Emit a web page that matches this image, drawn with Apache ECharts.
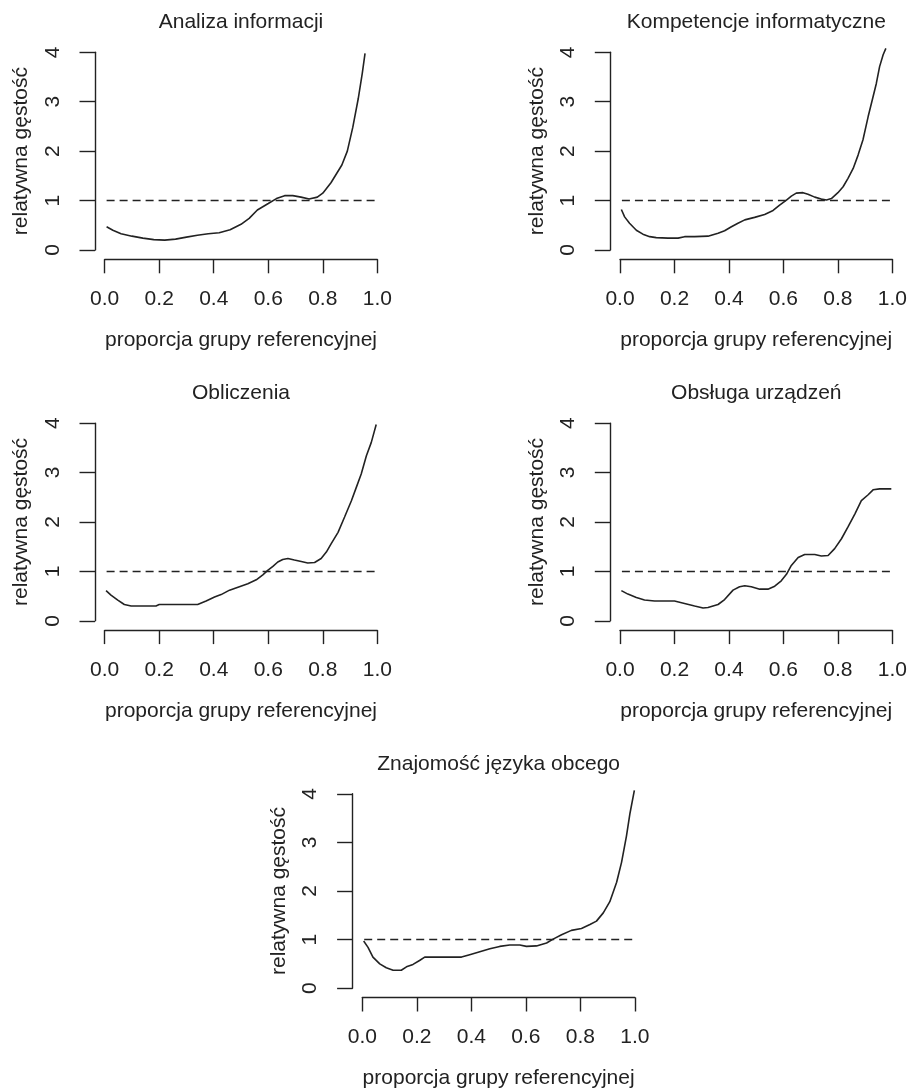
<!DOCTYPE html>
<html>
<head>
<meta charset="utf-8">
<script src="https://cdn.jsdelivr.net/npm/echarts@6/dist/echarts.min.js"></script>
<style>
html,body{margin:0;padding:0;background:#fff;}
#chart{width:910px;height:1090px;}
</style>
</head>
<body>
<div id="chart"></div>
<script>
// ---- data ----
const panelTitles = ["Analiza informacji", "Kompetencje informatyczne", "Obliczenia", "Obsługa urządzeń", "Znajomość języka obcego"];
const xTickValues = [0, 0.2, 0.4, 0.6, 0.8, 1.0];
const yTickValues = [0, 1, 2, 3, 4];
const xAxisTitle = "proporcja grupy referencyjnej";
const yAxisTitle = "relatywna gęstość";
const referenceLevel = 1;
const referenceSpan = [0.007, 1.015];

const analizaInformacji = [[0.007,0.47],[0.03,0.40],[0.06,0.33],[0.10,0.28],[0.14,0.24],[0.18,0.21],[0.22,0.20],[0.26,0.22],[0.30,0.26],[0.34,0.30],[0.38,0.33],[0.42,0.35],[0.46,0.41],[0.50,0.52],[0.53,0.64],[0.56,0.81],[0.60,0.94],[0.63,1.04],[0.66,1.10],[0.69,1.10],[0.72,1.07],[0.75,1.03],[0.78,1.07],[0.80,1.15],[0.83,1.36],[0.87,1.72],[0.89,2.00],[0.91,2.48],[0.93,3.06],[0.945,3.58],[0.955,3.98]];
const kompetencjeInformatyczne = [[0.005,0.82],[0.017,0.67],[0.035,0.54],[0.06,0.40],[0.084,0.32],[0.109,0.27],[0.133,0.25],[0.176,0.24],[0.213,0.24],[0.237,0.27],[0.274,0.27],[0.323,0.28],[0.36,0.34],[0.384,0.39],[0.409,0.47],[0.433,0.54],[0.458,0.61],[0.494,0.66],[0.531,0.72],[0.562,0.80],[0.586,0.91],[0.611,1.01],[0.629,1.09],[0.647,1.15],[0.672,1.16],[0.69,1.13],[0.715,1.07],[0.739,1.03],[0.758,1.01],[0.776,1.04],[0.80,1.16],[0.819,1.28],[0.837,1.45],[0.856,1.65],[0.874,1.92],[0.892,2.23],[0.911,2.70],[0.929,3.10],[0.941,3.37],[0.953,3.71],[0.966,3.95],[0.976,4.08]];
const obliczenia = [[0.005,0.61],[0.023,0.52],[0.048,0.42],[0.072,0.33],[0.097,0.30],[0.14,0.30],[0.188,0.30],[0.20,0.33],[0.25,0.33],[0.30,0.33],[0.341,0.33],[0.372,0.40],[0.403,0.48],[0.427,0.53],[0.458,0.62],[0.494,0.69],[0.525,0.75],[0.556,0.83],[0.58,0.93],[0.598,1.02],[0.617,1.10],[0.635,1.19],[0.653,1.24],[0.672,1.26],[0.696,1.23],[0.721,1.20],[0.745,1.17],[0.77,1.18],[0.794,1.26],[0.813,1.39],[0.831,1.56],[0.856,1.79],[0.88,2.10],[0.905,2.43],[0.923,2.70],[0.941,2.97],[0.96,3.34],[0.978,3.61],[0.996,3.97]];
const obslugaUrzadzen = [[0.005,0.61],[0.029,0.54],[0.06,0.47],[0.09,0.42],[0.127,0.40],[0.164,0.40],[0.20,0.40],[0.237,0.35],[0.274,0.30],[0.305,0.26],[0.323,0.27],[0.36,0.33],[0.384,0.43],[0.415,0.62],[0.439,0.69],[0.458,0.71],[0.482,0.69],[0.513,0.64],[0.543,0.64],[0.568,0.70],[0.592,0.81],[0.611,0.94],[0.629,1.12],[0.654,1.28],[0.678,1.34],[0.715,1.34],[0.739,1.31],[0.764,1.32],[0.788,1.46],[0.813,1.66],[0.837,1.90],[0.862,2.16],[0.886,2.43],[0.911,2.55],[0.929,2.65],[0.953,2.67],[0.996,2.67]];
const znajomoscJezyka = [[0.005,0.97],[0.021,0.84],[0.039,0.64],[0.064,0.50],[0.088,0.42],[0.113,0.37],[0.143,0.37],[0.162,0.44],[0.186,0.49],[0.21,0.57],[0.229,0.64],[0.272,0.64],[0.321,0.64],[0.364,0.64],[0.394,0.69],[0.431,0.75],[0.468,0.81],[0.504,0.86],[0.541,0.89],[0.578,0.89],[0.602,0.86],[0.639,0.87],[0.676,0.93],[0.70,1.01],[0.731,1.10],[0.767,1.19],[0.804,1.23],[0.835,1.31],[0.859,1.38],[0.884,1.55],[0.908,1.78],[0.933,2.18],[0.951,2.59],[0.969,3.13],[0.982,3.60],[0.998,4.07]];

const panelSeries = [analizaInformacji, kompetencjeInformatyczne, obliczenia, obslugaUrzadzen, znajomoscJezyka];

// ---- layout ----
const FONT = '"Liberation Sans", Arial, Helvetica, sans-serif';
const FS = 21;
const INK = '#222';
const gw = 272.6, gh = 197.7;
const origins = [[104.7, 52.3], [620.0, 52.3], [104.7, 423.1], [620.0, 423.1], [362.3, 793.8]];

const grids = [], xAxes = [], yAxes = [], series = [], graphics = [];
origins.forEach(function (o, i) {
  grids.push({left: o[0], top: o[1], width: gw, height: gh});
  xAxes.push({
    type: 'value', gridIndex: i, min: xTickValues[0], max: xTickValues[xTickValues.length - 1],
    interval: 0.2, offset: 9.3,
    axisLine: {show: true, onZero: false, lineStyle: {color: INK, width: 1.4}},
    axisTick: {show: true, length: 14, lineStyle: {color: INK, width: 1.4}},
    axisLabel: {show: true, margin: 29.5, fontSize: FS, fontFamily: FONT, color: INK,
      formatter: function (v) { return v.toFixed(1); }},
    splitLine: {show: false},
    name: xAxisTitle, nameLocation: 'middle', nameGap: 70.5,
    nameTextStyle: {fontSize: FS, fontFamily: FONT, color: INK}
  });
  yAxes.push({
    type: 'value', gridIndex: i, min: yTickValues[0], max: yTickValues[yTickValues.length - 1],
    interval: 1, offset: 9.7,
    axisLine: {show: true, onZero: false, lineStyle: {color: INK, width: 1.4}},
    axisTick: {show: true, length: 15.5, lineStyle: {color: INK, width: 1.4}},
    axisLabel: {show: true, rotate: 90, margin: 31.5, fontSize: FS, fontFamily: FONT, color: INK},
    splitLine: {show: false},
    name: yAxisTitle, nameLocation: 'middle', nameGap: 63,
    nameTextStyle: {fontSize: FS, fontFamily: FONT, color: INK}
  });
  series.push({
    type: 'line', xAxisIndex: i, yAxisIndex: i, data: panelSeries[i],
    showSymbol: false, symbol: 'none', clip: false, smooth: false, silent: true,
    lineStyle: {color: INK, width: 1.6}
  });
  series.push({
    type: 'line', xAxisIndex: i, yAxisIndex: i,
    data: [[referenceSpan[0], referenceLevel], [referenceSpan[1], referenceLevel]],
    showSymbol: false, symbol: 'none', clip: false, silent: true,
    lineStyle: {color: INK, width: 1.5, type: [8, 5]}
  });
  graphics.push({
    type: 'text', x: o[0] + gw / 2, y: o[1] - 30, silent: true,
    style: {text: panelTitles[i], fontSize: FS, fontFamily: FONT, fill: INK,
      align: 'center', verticalAlign: 'middle'}
  });
});

const chart = echarts.init(document.getElementById('chart'), null, {renderer: 'canvas'});
chart.setOption({
  animation: false,
  backgroundColor: '#ffffff',
  grid: grids,
  xAxis: xAxes,
  yAxis: yAxes,
  series: series,
  graphic: graphics
});
</script>
</body>
</html>
